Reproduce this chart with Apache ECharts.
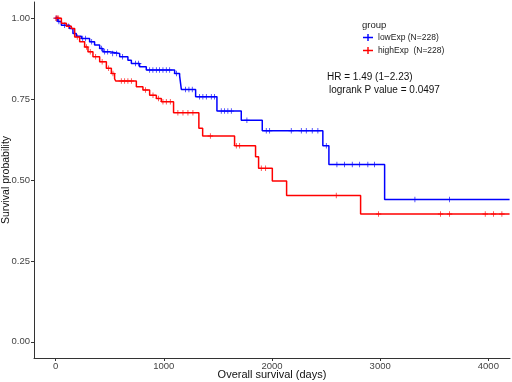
<!DOCTYPE html>
<html>
<head>
<meta charset="utf-8">
<script src="https://cdn.jsdelivr.net/npm/echarts@6/dist/echarts.min.js"></script>
<style>
  html, body { margin: 0; padding: 0; background: #fff; }
  #chart { width: 512px; height: 382px; }
</style>
</head>
<body>
<div id="chart"></div>
<script>
// step curves (days, survival probability)
var lowTimes = [0, 20, 53, 129, 160, 191, 238, 314, 360, 407, 437, 499, 592, 668, 700, 776, 838, 1100, 1146, 1162, 1294, 1491, 1716, 1910, 2470, 2526, 3041, 4196];
var lowSurv  = [1.0, 0.99, 0.978, 0.968, 0.953, 0.944, 0.937, 0.927, 0.917, 0.906, 0.896, 0.891, 0.881, 0.870, 0.860, 0.850, 0.840, 0.829, 0.822, 0.780, 0.757, 0.713, 0.685, 0.652, 0.606, 0.548, 0.440, 0.440];
var highTimes = [0, 53, 99, 145, 176, 222, 268, 299, 345, 407, 469, 515, 545, 555, 746, 807, 869, 931, 977, 1090, 1324, 1359, 1654, 1848, 1876, 2003, 2135, 2819, 4196];
var highSurv  = [1.0, 0.984, 0.975, 0.968, 0.942, 0.927, 0.911, 0.896, 0.881, 0.865, 0.845, 0.829, 0.813, 0.806, 0.788, 0.778, 0.762, 0.752, 0.742, 0.708, 0.660, 0.636, 0.606, 0.572, 0.536, 0.497, 0.452, 0.395, 0.395];

// censor marks
var lowCensT = [5, 30, 83, 250, 277, 333, 425, 453, 481, 527, 564, 619, 739, 767, 869, 899, 931, 961, 992, 1023, 1054, 1118, 1201, 1232, 1263, 1331, 1361, 1393, 1439, 1469, 1531, 1562, 1592, 1624, 1768, 1947, 1978, 2178, 2271, 2317, 2372, 2424, 2502, 2600, 2671, 2742, 2810, 2886, 2948, 3321, 3641];
var lowCensS = [1.0, 0.99, 0.978, 0.937, 0.937, 0.927, 0.906, 0.896, 0.896, 0.891, 0.891, 0.881, 0.860, 0.860, 0.840, 0.840, 0.840, 0.840, 0.840, 0.840, 0.840, 0.829, 0.780, 0.780, 0.780, 0.757, 0.757, 0.757, 0.757, 0.757, 0.713, 0.713, 0.713, 0.713, 0.685, 0.652, 0.652, 0.652, 0.652, 0.652, 0.652, 0.652, 0.606, 0.548, 0.548, 0.548, 0.548, 0.548, 0.548, 0.44, 0.44];
var highCensT = [3, 10, 18, 28, 120, 200, 285, 320, 370, 430, 490, 530, 607, 638, 668, 700, 830, 900, 950, 992, 1023, 1060, 1130, 1177, 1223, 1269, 1430, 1670, 1701, 1901, 1941, 2594, 2985, 3558, 3641, 3971, 4048, 4125];
var highCensS = [1.0, 1.0, 1.0, 1.0, 0.975, 0.942, 0.911, 0.896, 0.881, 0.865, 0.845, 0.829, 0.806, 0.806, 0.806, 0.806, 0.778, 0.762, 0.752, 0.742, 0.742, 0.742, 0.708, 0.708, 0.708, 0.708, 0.636, 0.606, 0.606, 0.536, 0.536, 0.452, 0.395, 0.395, 0.395, 0.395, 0.395, 0.395];

var xTicks = [0, 1000, 2000, 3000, 4000];
var yTicks = [0, 0.25, 0.5, 0.75, 1.0];
var groupNames = ['lowExp (N=228)', 'highExp  (N=228)'];

function pairs(xs, ys) {
    return xs.map(function(x, i) { return [x, ys[i]]; });
}

var FONT = '"Liberation Sans", Arial, sans-serif';
var plus = 'path://M0,4.25h10v1.5h-10z M4.25,0h1.5v10h-1.5z';

var chart = echarts.init(document.getElementById('chart'));
var option = {
    animation: false,
    textStyle: { fontFamily: FONT },
    grid: { left: 34, right: 2, top: 2, bottom: 24, containLabel: false, outerBoundsMode: 'none' },
    title: {
        text: 'group',
        left: 362, top: 20, padding: 0,
        textStyle: { fontSize: 9.5, fontWeight: 'normal', color: '#222', fontFamily: FONT }
    },
    legend: {
        orient: 'vertical',
        left: 363, top: 33, padding: 0,
        itemWidth: 10, itemHeight: 8, itemGap: 4,
        icon: 'path://M0,3.3h10v1.4h-10z M4.3,0.5h1.4v7h-1.4z',
        data: groupNames,
        textStyle: { fontSize: 8.5, color: '#222', fontFamily: FONT }
    },
    xAxis: {
        type: 'value', min: -200, max: 4200,
        name: 'Overall survival (days)', nameLocation: 'middle', nameGap: 11,
        nameMoveOverlap: false,
        nameTextStyle: { fontSize: 11, color: '#111' },
        splitLine: { show: false },
        axisLine: { onZero: false, lineStyle: { color: '#333', width: 1 } },
        axisTick: { show: true, length: 3, customValues: xTicks, lineStyle: { color: '#333' } },
        axisLabel: { customValues: xTicks, fontSize: 9.5, color: '#444', margin: 3,
            formatter: function(v) { return String(v); } }
    },
    yAxis: {
        type: 'value', min: -0.05, max: 1.05,
        name: 'Survival probability', nameLocation: 'middle', nameGap: 22,
        nameMoveOverlap: false,
        nameTextStyle: { fontSize: 10.5, color: '#111' },
        splitLine: { show: false },
        axisLine: { show: true, onZero: false, lineStyle: { color: '#333', width: 1 } },
        axisTick: { show: true, length: 3, customValues: yTicks, lineStyle: { color: '#333' } },
        axisLabel: { customValues: yTicks, fontSize: 9.5, color: '#444', margin: 4,
            formatter: function(v) { return v.toFixed(2); } }
    },
    graphic: [
        { type: 'text', left: 327, top: 72, style: { text: 'HR = 1.49 (1\u22122.23)', fill: '#111', font: '10px ' + FONT } },
        { type: 'text', left: 329, top: 85, style: { text: 'logrank P value = 0.0497', fill: '#111', font: '10px ' + FONT } }
    ],
    series: [
        { name: groupNames[0], type: 'line', step: 'end', showSymbol: false, color: '#0000FF',
          lineStyle: { width: 1.5 }, data: pairs(lowTimes, lowSurv) },
        { name: groupNames[1], type: 'line', step: 'end', showSymbol: false, color: '#FF0000',
          lineStyle: { width: 1.5 }, data: pairs(highTimes, highSurv) },
        { name: groupNames[0], type: 'scatter', symbol: plus, symbolSize: 5.5, color: '#0000FF',
          data: pairs(lowCensT, lowCensS) },
        { name: groupNames[1], type: 'scatter', symbol: plus, symbolSize: 5.5, color: '#FF0000',
          data: pairs(highCensT, highCensS) }
    ]
};
chart.setOption(option);
</script>
</body>
</html>
